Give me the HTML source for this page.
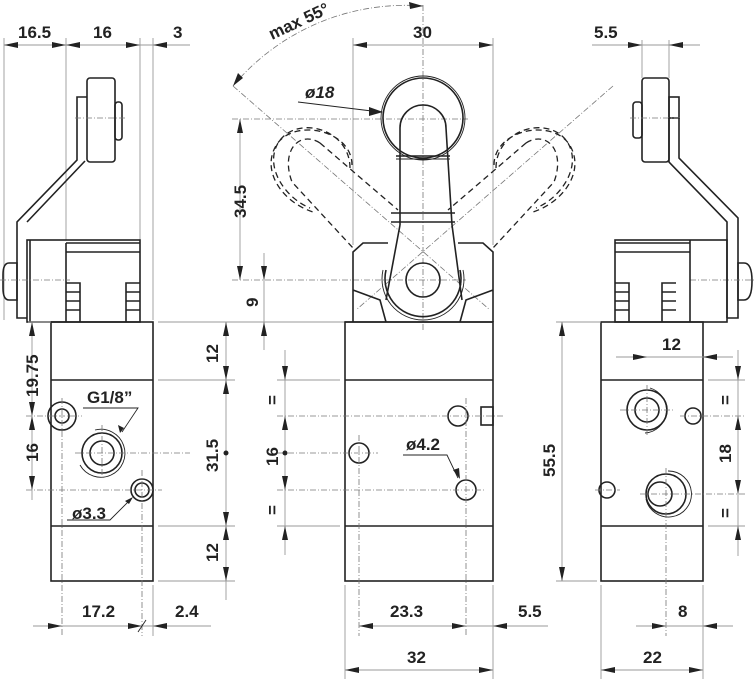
<!DOCTYPE html>
<html><head><meta charset="utf-8"><style>
html,body{margin:0;padding:0;background:#fff}
svg{display:block}
text{font-family:"Liberation Sans",sans-serif;font-weight:bold;font-size:17px;fill:#222}
.o{fill:none;stroke:#222;stroke-width:1.6}
.t{fill:none;stroke:#222;stroke-width:0.9}
.d{fill:none;stroke:#999;stroke-width:0.9}
.c{fill:none;stroke:#777;stroke-width:0.8;stroke-dasharray:6 2 1 2}
.h{fill:none;stroke:#222;stroke-width:1.3;stroke-dasharray:6 4}
</style></head><body>
<svg width="755" height="679" viewBox="0 0 755 679" xmlns="http://www.w3.org/2000/svg">

<!-- ===== LEFT VIEW ===== -->
<g>
<line class="d" x1="4" y1="38" x2="4" y2="320"/>
<line class="d" x1="66" y1="38" x2="66" y2="240"/>
<line class="d" x1="140" y1="38" x2="140" y2="240"/>
<line class="d" x1="153" y1="38" x2="153" y2="320"/>
<line class="d" x1="4" y1="45" x2="190" y2="45"/>
<path d="M4,45l14,-3v6z M66,45l-14,-3v6z M66,45l14,-3v6z M140,45l-14,-3v6z M153,45l14,-3v6z" fill="#222"/>
<text x="18" y="38">16.5</text><text x="93" y="38">16</text><text x="173" y="38">3</text>
<rect class="o" x="27" y="240" width="113" height="82"/>
<line class="o" x1="30" y1="240" x2="30" y2="322"/>
<line class="o" x1="66" y1="243" x2="140" y2="243"/>
<line class="o" x1="66" y1="252" x2="140" y2="252"/>
<line class="o" x1="66" y1="243" x2="66" y2="322"/>
<path class="o" d="M66,283h14v39M66,292h14M66,301h14M66,310h14 M140,283h-14v39M140,292h-14M140,301h-14M140,310h-14"/>
<path class="o" d="M27,318h-10v-96l60,-62v-63h10 M27,222l58,-61"/>
<path class="o" d="M3,275q0,-12 6,-12h8v37h-8q-6,0 -6,-12z"/>
<line class="c" x1="0" y1="280" x2="70" y2="280"/>
<rect class="o" x="87" y="78" width="28" height="84" rx="3"/>
<rect class="o" x="115" y="102" width="7" height="38" rx="3"/>
<line class="c" x1="75" y1="118" x2="125" y2="118"/>
<rect class="o" x="51" y="322" width="102" height="259"/>
<line class="o" x1="51" y1="380" x2="153" y2="380"/>
<line class="o" x1="51" y1="526" x2="153" y2="526"/>
<circle class="o" cx="62" cy="416" r="14"/><circle class="o" cx="62" cy="416" r="7"/>
<circle class="o" cx="102" cy="453" r="20"/><circle class="o" cx="102" cy="453" r="12"/>
<path class="t" d="M95,430a24,24 0 1 1 -15,35"/>
<circle class="o" cx="142" cy="490" r="11"/><circle class="o" cx="142" cy="490" r="7"/>
<line class="c" x1="26" y1="416" x2="82" y2="416"/>
<line class="c" x1="75" y1="453" x2="190" y2="453"/>
<line class="c" x1="26" y1="490" x2="162" y2="490"/>
<line class="c" x1="62" y1="398" x2="62" y2="636"/>
<line class="c" x1="142" y1="470" x2="142" y2="636"/>
<line class="c" x1="102" y1="425" x2="102" y2="480"/>
<text x="87" y="403">G1/8”</text>
<polyline class="t" points="83,408 138,408 122,432"/>
<path d="M120,433l-2,-8 6,3z" fill="#222"/>
<text x="72" y="519">ø3.3</text>
<polyline class="t" points="67,520 110,520 131,499"/>
<path d="M133,497l-8,4 4,3z" fill="#222"/>
<line class="d" x1="32" y1="322" x2="32" y2="500"/>
<line class="d" x1="28" y1="322" x2="51" y2="322"/>
<path d="M32,322l-3,14h6z M32,416l-3,-14h6z M32,416l-3,14h6z M32,490l-3,-14h6z" fill="#222"/>
<text transform="translate(38,397) rotate(-90)">19.75</text>
<text transform="translate(38,462) rotate(-90)">16</text>
<line class="d" x1="158" y1="322" x2="235" y2="322"/>
<line class="d" x1="158" y1="380" x2="235" y2="380"/>
<line class="d" x1="158" y1="526" x2="235" y2="526"/>
<line class="d" x1="158" y1="581" x2="235" y2="581"/>
<line class="d" x1="226" y1="322" x2="226" y2="600"/>
<path d="M226,322l-3,14h6z M226,380l-3,-14h6z M226,380l-3,14h6z M226,526l-3,-14h6z M226,526l-3,14h6z M226,581l-3,-14h6z" fill="#222"/>
<circle cx="226" cy="453" r="2.5" fill="#222"/>
<text transform="translate(218,363) rotate(-90)">12</text>
<text transform="translate(218,472) rotate(-90)">31.5</text>
<text transform="translate(218,562) rotate(-90)">12</text>
<line class="d" x1="153" y1="585" x2="153" y2="636"/>
<line class="d" x1="33" y1="626" x2="211" y2="626"/>
<path d="M62,626l-14,-3v6z M142,626l-14,-3v6z M153,626l14,-3v6z" fill="#222"/>
<line class="t" x1="138" y1="632" x2="146" y2="620"/>
<text x="82" y="617">17.2</text><text x="175" y="617">2.4</text>
</g>

<!-- ===== CENTER VIEW ===== -->
<g>
<line class="d" x1="353" y1="38" x2="353" y2="245"/>
<line class="d" x1="493" y1="38" x2="493" y2="245"/>
<line class="d" x1="353" y1="45" x2="493" y2="45"/>
<path d="M353,45l14,-3v6z M493,45l-14,-3v6z" fill="#222"/>
<text x="413" y="38">30</text>
<line class="c" x1="423" y1="5" x2="423" y2="330"/>
<path class="c" d="M233,86A225,225 0 0 1 423,6"/>
<path d="M423,6l-14,-4 1,7z M233,86l5,-13 5,5z" fill="#222"/>
<text transform="translate(272,40) rotate(-25)">max 55°</text>
<line class="c" x1="233" y1="86" x2="490" y2="310"/>
<line class="c" x1="613" y1="86" x2="356" y2="310"/>
<line class="c" x1="232" y1="119" x2="468" y2="119"/>
<line class="c" x1="232" y1="280" x2="466" y2="280"/>
<line class="d" x1="240" y1="119" x2="240" y2="280"/>
<path d="M240,119l-3,14h6z M240,280l-3,-14h6z" fill="#222"/>
<text transform="translate(246,218) rotate(-90)">34.5</text>
<line class="d" x1="264" y1="253" x2="264" y2="350"/>
<line class="d" x1="230" y1="322" x2="345" y2="322"/>
<path d="M264,280l-3,-14h6z M264,322l-3,14h6z" fill="#222"/>
<text transform="translate(258,307) rotate(-90)">9</text>
<path class="h" d="M350,168C350,130 300,115 280,140C262,165 285,198 310,208 M352,165C352,130 295,118 277,144C260,170 282,202 313,212"/>
<path class="h" d="M320,143L398,210 M320,143C300,130 280,150 292,182L353,248"/>
<path class="h" d="M496,168C496,130 546,115 566,140C584,165 561,198 536,208 M494,165C494,130 551,118 569,144C586,170 564,202 533,212"/>
<path class="h" d="M526,143L448,210 M526,143C546,130 566,150 554,182L493,248"/>
<circle class="o" cx="423" cy="118" r="40"/><circle class="t" cx="423" cy="118" r="42"/>
<text x="305" y="98" style="font-style:italic">ø18</text>
<line class="t" x1="298" y1="102" x2="380" y2="112"/>
<path d="M383,112l-14,-5v9z" fill="#222"/>
<path class="o" d="M400,225L400,128A23,23 0 0 1 446,128L452,225 M400,225L386,300 M452,225L462,300"/>
<line class="o" x1="396" y1="156" x2="450" y2="156"/><line class="t" x1="396" y1="159" x2="450" y2="159"/>
<line class="o" x1="391" y1="213" x2="455" y2="213"/><line class="o" x1="391" y1="222" x2="455" y2="222"/>
<path class="o" d="M386,270A38,38 0 1 0 460,270"/>
<path class="t" d="M383,270A41,41 0 1 0 463,270"/>
<circle class="o" cx="423" cy="280" r="17"/>
<path class="o" d="M388,243H363L353,252V322 M458,243H483L493,252V322 M353,290L380,300L386,322 M493,290L466,300L460,322 M345,322H493"/>
<rect class="o" x="345" y="322" width="148" height="259"/>
<line class="o" x1="345" y1="380" x2="493" y2="380"/>
<line class="o" x1="345" y1="526" x2="493" y2="526"/>
<circle class="o" cx="458" cy="416" r="10"/>
<circle class="o" cx="359" cy="453" r="10"/>
<circle class="o" cx="466" cy="490" r="10"/>
<rect class="o" x="481" y="407" width="12" height="18"/>
<line class="c" x1="277" y1="416" x2="505" y2="416"/>
<line class="c" x1="277" y1="453" x2="378" y2="453"/>
<line class="c" x1="277" y1="490" x2="485" y2="490"/>
<line class="c" x1="359" y1="435" x2="359" y2="636"/>
<line class="c" x1="466" y1="398" x2="466" y2="636"/>
<text x="406" y="450">ø4.2</text>
<polyline class="t" points="403,455 447,455 458,478"/>
<path d="M460,479l-7,-9 6,-2z" fill="#222"/>
<line class="d" x1="277" y1="380" x2="340" y2="380"/>
<line class="d" x1="277" y1="526" x2="340" y2="526"/>
<line class="d" x1="285" y1="350" x2="285" y2="555"/>
<path d="M285,380l-3,-14h6z M285,416l-3,14h6z M285,490l-3,-14h6z M285,526l-3,14h6z" fill="#222"/>
<circle cx="285" cy="453" r="2.5" fill="#222"/>
<text transform="translate(278,466) rotate(-90)">16</text>
<text transform="translate(278,405) rotate(-90)">=</text>
<text transform="translate(278,515) rotate(-90)">=</text>
<line class="d" x1="345" y1="585" x2="345" y2="679"/>
<line class="d" x1="493" y1="585" x2="493" y2="679"/>
<line class="d" x1="359" y1="626" x2="548" y2="626"/>
<path d="M359,626l14,-3v6z M466,626l-14,-3v6z M493,626l14,-3v6z" fill="#222"/>
<text x="390" y="617">23.3</text><text x="518" y="617">5.5</text>
<line class="d" x1="345" y1="670" x2="493" y2="670"/>
<path d="M345,670l14,-3v6z M493,670l-14,-3v6z" fill="#222"/>
<text x="407" y="663">32</text>
</g>

<!-- ===== RIGHT VIEW ===== -->
<g>
<line class="d" x1="592" y1="45" x2="700" y2="45"/>
<line class="d" x1="642" y1="40" x2="642" y2="78"/>
<line class="d" x1="669" y1="40" x2="669" y2="78"/>
<path d="M642,45l-14,-3v6z M669,45l14,-3v6z" fill="#222"/>
<text x="594" y="38">5.5</text>
<rect class="o" x="642" y="78" width="27" height="84" rx="3"/>
<rect class="o" x="633" y="102" width="9" height="36" rx="3"/>
<rect class="o" x="669" y="97" width="10" height="21"/>
<line class="c" x1="630" y1="118" x2="682" y2="118"/>
<path class="o" d="M669,118V162L727,222V318 M679,118V158L738,218V318H727"/>
<path class="o" d="M738,263h6q8,0 8,18q0,19 -8,19h-6z"/>
<line class="c" x1="690" y1="280" x2="755" y2="280"/>
<rect class="o" x="615" y="240" width="112" height="82"/>
<line class="o" x1="615" y1="243" x2="690" y2="243"/>
<line class="o" x1="615" y1="252" x2="690" y2="252"/>
<line class="o" x1="690" y1="240" x2="690" y2="322"/>
<path class="o" d="M615,283h14v39M615,292h14M615,301h14M615,310h14 M676,283h-14v39M676,292h-14M676,301h-14M676,310h-14"/>
<rect class="o" x="601" y="322" width="102" height="259"/>
<line class="o" x1="601" y1="380" x2="703" y2="380"/>
<line class="o" x1="601" y1="526" x2="703" y2="526"/>
<circle class="o" cx="647" cy="410" r="20"/><circle class="o" cx="647" cy="410" r="12"/>
<path class="t" d="M650,388a23,23 0 0 1 -5,45"/>
<circle class="o" cx="693" cy="416" r="8"/>
<circle class="o" cx="607" cy="490" r="8"/>
<circle class="o" cx="666" cy="494" r="20"/><circle class="o" cx="660" cy="494" r="12"/>
<path class="t" d="M668,471a23,23 0 1 1 -22,28"/>
<line class="c" x1="620" y1="410" x2="675" y2="410"/>
<line class="c" x1="647" y1="385" x2="647" y2="436"/>
<line class="c" x1="680" y1="416" x2="745" y2="416"/>
<line class="c" x1="595" y1="490" x2="620" y2="490"/>
<line class="c" x1="640" y1="494" x2="745" y2="494"/>
<line class="c" x1="666" y1="468" x2="666" y2="636"/>
<line class="d" x1="616" y1="357" x2="733" y2="357"/>
<path d="M647,357l-14,-3v6z M703,357l14,-3v6z" fill="#222"/>
<text x="662" y="350">12</text>
<line class="d" x1="708" y1="380" x2="745" y2="380"/>
<line class="d" x1="708" y1="526" x2="745" y2="526"/>
<line class="d" x1="738" y1="350" x2="738" y2="556"/>
<path d="M738,380l-3,-14h6z M738,416l-3,14h6z M738,494l-3,-14h6z M738,526l-3,14h6z" fill="#222"/>
<text transform="translate(731,463) rotate(-90)">18</text>
<text transform="translate(731,405) rotate(-90)">=</text>
<text transform="translate(731,518) rotate(-90)">=</text>
<line class="d" x1="556" y1="322" x2="601" y2="322"/>
<line class="d" x1="556" y1="581" x2="597" y2="581"/>
<line class="d" x1="562" y1="322" x2="562" y2="581"/>
<path d="M562,322l-3,14h6z M562,581l-3,-14h6z" fill="#222"/>
<text transform="translate(555,477) rotate(-90)">55.5</text>
<line class="d" x1="601" y1="585" x2="601" y2="679"/>
<line class="d" x1="703" y1="585" x2="703" y2="679"/>
<line class="d" x1="636" y1="626" x2="733" y2="626"/>
<path d="M666,626l-14,-3v6z M703,626l14,-3v6z" fill="#222"/>
<text x="678" y="617">8</text>
<line class="d" x1="601" y1="670" x2="703" y2="670"/>
<path d="M601,670l14,-3v6z M703,670l-14,-3v6z" fill="#222"/>
<text x="643" y="663">22</text>
</g>
</svg>
</body></html>
